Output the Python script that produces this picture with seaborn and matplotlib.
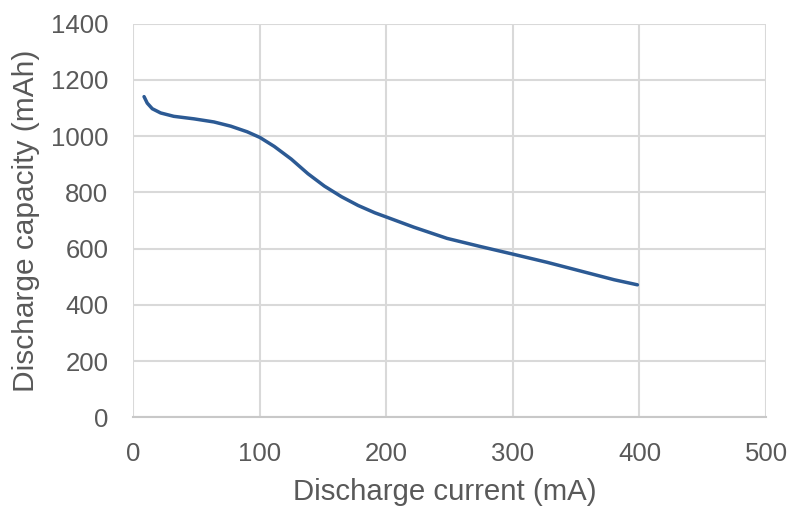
import matplotlib
matplotlib.use("Agg")
import matplotlib.pyplot as plt
import seaborn as sns
import pandas as pd

current_mA = [8.5, 11, 15, 21.6, 32, 48, 63.7, 77, 90, 100, 111.4, 124.8, 138, 151,
              164.6, 177.7, 190.9, 200, 221.6, 248, 274.4, 300, 327, 353.5, 380, 398.4]
capacity_mAh = [1140, 1117, 1097, 1082, 1070, 1061, 1050, 1035, 1015, 995, 963, 918, 866, 822,
                784, 753, 727, 712, 676, 636, 607, 580, 551, 520, 489, 471]
x_ticks = [0, 100, 200, 300, 400, 500]
y_ticks = [0, 200, 400, 600, 800, 1000, 1200, 1400]

sns.set_theme(style="whitegrid")
plt.rcParams['font.family'] = ['Liberation Sans', 'DejaVu Sans']

df = pd.DataFrame({"current": current_mA, "capacity": capacity_mAh})

fig = plt.figure(figsize=(7.91, 5.09), dpi=100)
W, H = 791, 509
ax = fig.add_axes([133.3 / W, 1 - 417.3 / H, (766 - 133.3) / W, (417.3 - 23.5) / H])

sns.lineplot(data=df, x="current", y="capacity", ax=ax, color="#2c5a94",
             linewidth=2.5, solid_capstyle="round", solid_joinstyle="round")

ax.set_xlim(0, 500)
ax.set_ylim(0, 1400)
ax.set_xticks(x_ticks)
ax.set_yticks(y_ticks)
ax.grid(True, color="#d9d9d9", linewidth=1.5)
for s in ax.spines.values():
    s.set_visible(False)
ax.spines['bottom'].set_visible(True)
ax.spines['bottom'].set_color("#c8c8c8")
ax.spines['bottom'].set_linewidth(1.5)
ax.tick_params(axis='both', length=0, pad=18, labelsize=18.5, labelcolor="#595959")
ax.set_xlabel("Discharge current (mA)", fontsize=21.2, color="#595959", labelpad=6)
ax.xaxis.set_label_coords(0.493, -0.155)
ax.set_ylabel("Discharge capacity (mAh)", fontsize=21.5, color="#595959", labelpad=8)

fig.savefig("out.png", dpi=100, facecolor="white")
